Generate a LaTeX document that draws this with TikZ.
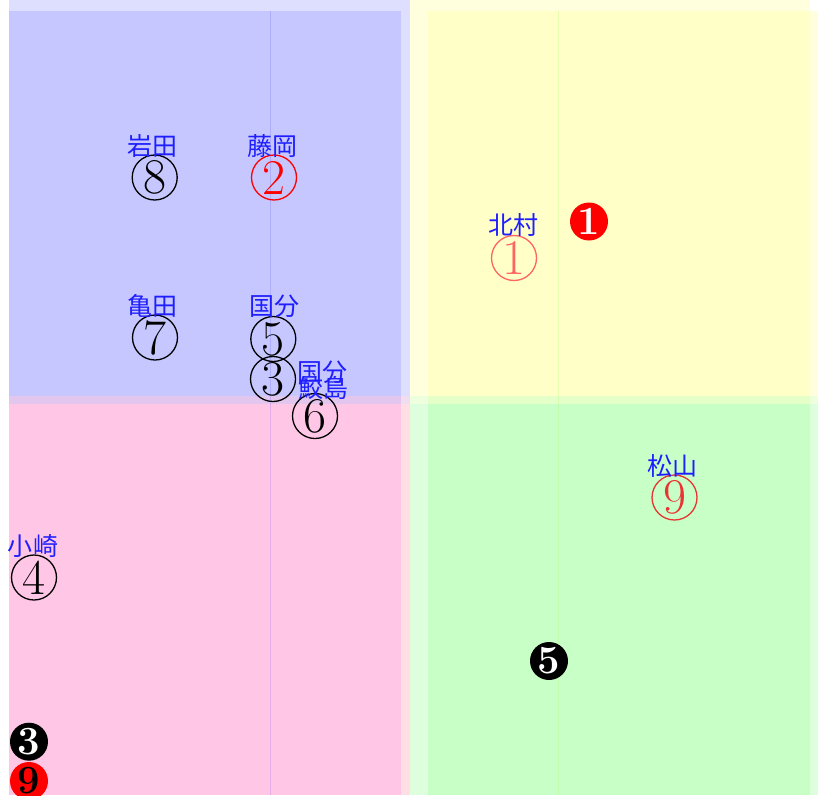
\documentclass[tikz,border=0pt]{standalone}
\usepackage{fontspec}
\newfontfamily\cjk{Noto Sans CJK JP}
\definecolor{bI}{RGB}{199,199,255}
\definecolor{bL}{RGB}{222,222,255}
\definecolor{pI}{RGB}{255,198,230}
\definecolor{pL}{RGB}{255,222,228}
\definecolor{bp}{RGB}{226,198,238}
\definecolor{bpL}{RGB}{240,222,240}
\definecolor{yI}{RGB}{255,255,199}
\definecolor{yL}{RGB}{255,255,222}
\definecolor{gI}{RGB}{199,255,199}
\definecolor{gL}{RGB}{222,255,222}
\definecolor{yg}{RGB}{228,255,200}
\definecolor{ygL}{RGB}{238,255,222}
\definecolor{labblue}{RGB}{30,30,255}
\definecolor{salmon}{RGB}{255,100,100}
\definecolor{redB}{RGB}{236,50,50}
\tikzset{
  lab/.style={text=labblue, font=\cjk\fontsize{25}{25}\selectfont, inner sep=0pt},
  circnum/.style={circle, draw=#1, text=#1, line width=1.3pt, minimum size=45pt, inner sep=0pt,
    font=\fontsize{50}{50}\selectfont},
  fillnum/.style={circle, fill=#1, minimum size=38pt, inner sep=0pt,
    font=\bfseries\fontsize{40}{40}\selectfont},
  guide/.style={line width=1pt}
}
\begin{document}
\begin{tikzpicture}[x=1pt,y=-1pt]
\useasboundingbox (0,0) rectangle (818,795);
% blue quadrant
\fill[bL] (9,0) rectangle (410,396);
\fill[bI] (9,11) rectangle (401,396);
\fill[bp] (9,396) rectangle (401,404);
\fill[bpL] (401,396) rectangle (410,404);
% pink quadrant
\fill[pI] (9,404) rectangle (401,795);
\fill[pL] (401,404) rectangle (410,795);
% yellow quadrant
\fill[yL] (410,0) rectangle (810,396);
\fill[yL] (810,11) rectangle (818,396);
\fill[yI] (428,11) rectangle (810,396);
\fill[yg] (428,396) rectangle (810,404);
\fill[ygL] (410,396) rectangle (428,404);
\fill[ygL] (810,396) rectangle (818,404);
% green quadrant
\fill[gI] (428,404) rectangle (810,795);
\fill[gL] (410,404) rectangle (428,795);
\fill[gL] (810,404) rectangle (818,795);
% faint guide lines
\coordinate (g1a) at (270,11); \coordinate (g1b) at (270,795);
\coordinate (g2a) at (558.5,11); \coordinate (g2b) at (558.5,795);
\draw[guide, blue, opacity=0.12] (g1a) -- (g1b);
\draw[guide, color={rgb,255:red,190;green,250;blue,140}, opacity=0.35] (g2a) -- (g2b);
% circled numbers
\node[circnum=black] (n8) at (154.7,177.5) {8};
\node[circnum=red] (n2) at (274,177.5) {2};
\node[circnum=black] (n7) at (155,337.5) {7};
\node[circnum=black] (n5) at (273.3,339) {5};
\node[circnum=black] (n3) at (273,379) {3};
\node[circnum=black] (n6) at (315,416) {6};
\node[circnum=salmon] (n1) at (514,258) {1};
\node[circnum=redB] (n9) at (674.5,497.5) {9};
\node[circnum=black] (n4) at (34,577.5) {4};
% filled numbers
\node[fillnum=red, text=white] (f1) at (589,221.5) {1};
\node[fillnum=black, text=white] (f5) at (549,661) {5};
\node[fillnum=black, text=white] (f3) at (29,741.7) {3};
\node[fillnum=red, text=black] (f9) at (29,781) {9};
% labels
\node[lab] (l8) at (152,146) {岩田};
\node[lab] (l2) at (272,146) {藤岡};
\node[lab] (l7) at (152.5,306) {亀田};
\node[lab] (l5) at (274,306) {国分};
\node[lab] (l3) at (322,372) {国分};
\node[lab] (l6) at (323,388) {鮫島};
\node[lab] (l1) at (513,225) {北村};
\node[lab] (l9) at (672,466) {松山};
\node[lab] (l4) at (33,546) {小崎};
\end{tikzpicture}
\end{document}
